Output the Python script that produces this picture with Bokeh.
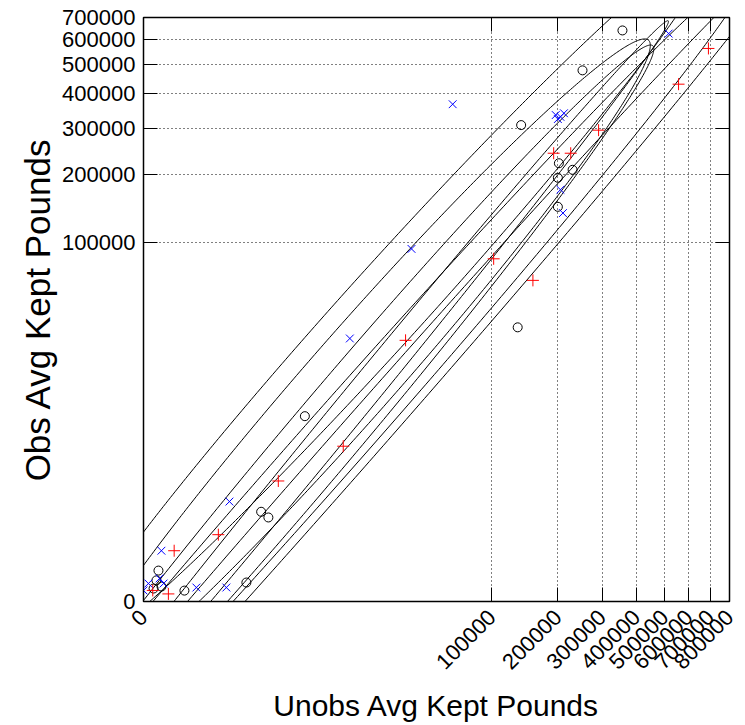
import numpy as np
from bokeh.plotting import figure
from bokeh.models import FixedTicker, LinearAxis, CustomJSTickFormatter, Range1d
from bokeh.embed import file_html
from bokeh.resources import INLINE

# ---- data (pounds) ----
x_ticks = [0, 100000, 200000, 300000, 400000, 500000, 600000, 700000, 800000]
y_ticks = [0, 100000, 200000, 300000, 400000, 500000, 600000, 700000]

black_x = [357000, 252000, 138000, 202000, 200000, 230000, 200000, 133000, 4600, 1300, 1650, 760, 19, 0.34, 0.19, 0.71, 0.07]
black_y = [640000, 479000, 310000, 222000, 194000, 209000, 146000, 34000, 7100, 390, 300, 0.78, 0.085, 5.5, 1.2, 0.3, 0.17]

red_x = [691000, 556000, 291000, 192000, 226000, 102000, 156000, 32000, 10800, 2240, 213, 6, 0.05, 2.6]
red_y = [563000, 431000, 297000, 243000, 243000, 83000, 64000, 28000, 3500, 1270, 120, 40, 0.09, 0.02]

blue_x = [516000, 62000, 196000, 212000, 200000, 205000, 205000, 210000, 35000, 12300, 370, 0.7, 53, 320, 0.004, 0.45, 1.1, 0.0]
blue_y = [626000, 368000, 337000, 342000, 326000, 332000, 173000, 137000, 93000, 28800, 600, 40, 0.23, 0.23, 0.63, 1.7, 0.63, 0.09]

# ellipses in fourth-root space: centre, semi-axes, angle (deg)
ell_cu = [12.6, 11.0, 9.0, 10.0, 9.5, 10.5]
ell_cv = [14.9, 11.5, 7.98, 8.9, 7.7, 7.5]
ell_a = [24.0, 22.0, 25.9, 26.0, 31.9, 33.5]
ell_b = [1.98, 2.17, 1.79, 0.8, 1.6, 1.14]
ell_deg = [47.0, 47.8, 49.0, 49.8, 47.7, 47.8]


def q(a):
    return np.power(np.asarray(a, dtype=float), 0.25)


FONT = "Liberation Sans"

p = figure(width=745, height=725, output_backend="svg", toolbar_location=None,
           x_range=Range1d(0.0, float(q(x_ticks[-1]))),
           y_range=Range1d(0.0, float(q(y_ticks[-1]))),
           min_border_left=143, min_border_right=16, min_border_top=17, min_border_bottom=122)
p.background_fill_color = "white"
p.border_fill_color = "white"
p.outline_line_color = "black"
p.outline_line_width = 1.5

xt = [float(v) for v in q(x_ticks)]
yt = [float(v) for v in q(y_ticks)]
fmt_code = "const v = Math.round(Math.pow(tick, 4) / 1000) * 1000; return v.toString();"

for ax, ticks in ((p.xaxis[0], xt), (p.yaxis[0], yt)):
    ax.ticker = FixedTicker(ticks=ticks)
    ax.formatter = CustomJSTickFormatter(code=fmt_code)
    ax.major_tick_in = 14
    ax.major_tick_out = 0
    ax.minor_tick_line_color = None
    ax.axis_line_color = "black"
    ax.major_tick_line_color = "black"
    ax.major_label_text_font = FONT
    ax.major_label_text_font_size = "22px"
    ax.major_label_text_color = "black"
    ax.axis_label_text_font = FONT
    ax.axis_label_text_font_style = "normal"
    ax.axis_label_text_color = "black"

p.xaxis.axis_label = "Unobs Avg Kept Pounds"
p.yaxis.axis_label = "Obs Avg Kept Pounds"
p.xaxis.axis_label_text_font_size = "30px"
p.yaxis.axis_label_text_font_size = "35px"
p.xaxis.major_label_orientation = np.pi / 4
p.yaxis.major_label_standoff = 8
p.xaxis.major_label_standoff = 12
p.yaxis.axis_label_standoff = 2
p.xaxis.axis_label_standoff = 10

# tick-only axes on top and right
top = LinearAxis(ticker=FixedTicker(ticks=xt), major_tick_in=14, major_tick_out=0,
                 minor_tick_line_color=None, axis_line_color="black", major_label_standoff=0)
top.formatter = CustomJSTickFormatter(code="return '';")
right = LinearAxis(ticker=FixedTicker(ticks=yt), major_tick_in=14, major_tick_out=0,
                   minor_tick_line_color=None, axis_line_color="black", major_label_standoff=0)
right.formatter = CustomJSTickFormatter(code="return '';")
p.add_layout(top, "above")
p.add_layout(right, "right")

for g, ticks in ((p.xgrid[0], xt), (p.ygrid[0], yt)):
    g.ticker = FixedTicker(ticks=ticks[1:])
    g.grid_line_color = "black"
    g.grid_line_dash = "1 3"
    g.grid_line_width = 1

# ellipses
t = np.linspace(0, 2 * np.pi, 600)
exs, eys = [], []
for cu, cv, a, b, d in zip(ell_cu, ell_cv, ell_a, ell_b, ell_deg):
    th = np.deg2rad(d)
    exs.append(list(cu + a * np.cos(th) * np.cos(t) - b * np.sin(th) * np.sin(t)))
    eys.append(list(cv + a * np.sin(th) * np.cos(t) + b * np.cos(th) * np.sin(t)))
p.multi_line(exs, eys, line_color="black", line_width=1)

p.scatter(q(black_x), q(black_y), marker="circle", size=9, fill_color=None,
          line_color="black", line_width=1)
p.scatter(q(red_x), q(red_y), marker="cross", size=12, line_color="red", line_width=1)
p.scatter(q(blue_x), q(blue_y), marker="x", size=11, line_color="blue", line_width=1)

open("out.html", "w").write(file_html(p, INLINE))
